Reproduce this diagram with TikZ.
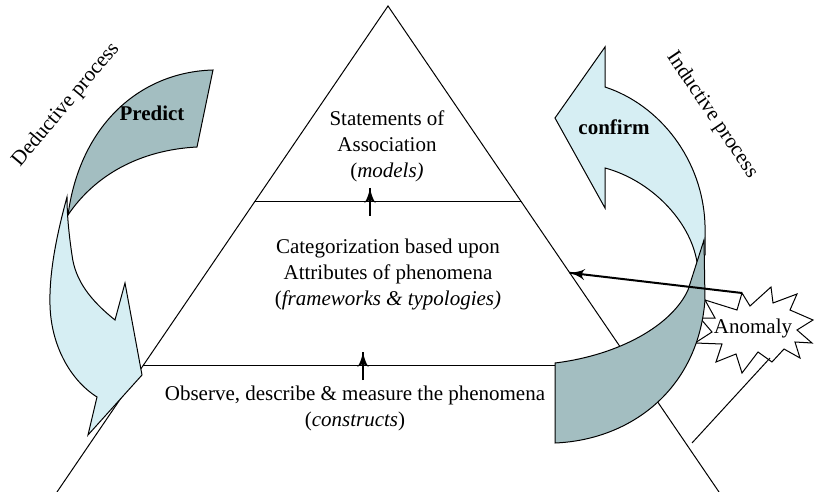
\documentclass[tikz,border=0pt]{standalone}
\usepackage{fontspec}
\setmainfont{Liberation Serif}[ItalicFont={Liberation Serif Italic},
  BoldFont={Liberation Serif Bold}]
\usetikzlibrary{arrows}
\usetikzlibrary{calc}
\usetikzlibrary{decorations.markings}
\definecolor{darkband}{RGB}{163,190,193}
\definecolor{lightband}{RGB}{214,238,243}
\tikzset{->/.style = {line width=1pt,
                      decoration={markings,
                                  mark=at position 1 with {\arrow[scale=1.3]{latex'}}},
                      postaction={decorate}}}
\tikzset{lbl/.style = {align=center, inner sep=0, font=\fontsize{10.5}{13}\selectfont}}
\tikzset{bold/.style = {inner sep=0, font=\fontsize{10.5}{13}\selectfont\bfseries}}
\tikzset{band/.style = {draw=black, line width=0.5pt}}

\begin{document}
\begin{tikzpicture}[x=0.5pt, y=-0.5pt, line width=0.5pt]
      \useasboundingbox (0,0) rectangle (815,492);
      % pyramid and its levels
      \coordinate (top) at (388,6);
      \coordinate (bl) at (57,492);
      \coordinate (br) at (719,492);
      \draw (bl) -- (top) -- (br);
      \draw ($(top)!0.403!(bl)$) -- ($(top)!0.403!(br)$);
      \draw ($(top)!0.739!(bl)$) -- ($(top)!0.739!(br)$);
      \draw [->] (370,216) -- (370,188);
      \draw [->] (363,380) -- (363,352);
      % anomaly burst
      \filldraw [fill=white] (742,293) -- (750,306) -- (771,287) -- (773,303)
        -- (797,294) -- (790,310) -- (813,320) -- (797,330) -- (812,343)
        -- (795,342) -- (800,358) -- (784,349) -- (772,362) -- (758,352)
        -- (742,373) -- (736,354) -- (716,362) -- (722,344) -- (695,343)
        -- (712,332) -- (700,318) -- (715,318) -- (705,300) -- (737,310) -- cycle;
      \coordinate (spike) at (742,293);
      \coordinate (foot) at (770,358);
      \coordinate (base) at (692,443);
      \draw (foot) -- (base);
      % deductive arrow
      \filldraw [band, fill=lightband] (67,197) .. controls (58,230) and (49,270) .. (50,305)
        .. controls (51,345) and (70,380) .. (97,397) -- (88,435) -- (142,375)
        -- (125,283) -- (115,320) .. controls (90,300) and (75,280) .. (72,255)
        .. controls (69,235) and (67,215) .. cycle;
      \filldraw [band, fill=darkband] (213,70) .. controls (140,72) and (80,125) .. (68,215)
        .. controls (95,175) and (140,150) .. (197,147) -- cycle;
      % inductive arrow
      \filldraw [band, fill=lightband] (605,47) -- (555,118) -- (605,208) -- (605,168)
        .. controls (650,180) and (690,220) .. (697,262) -- (705,255) -- (705,225)
        .. controls (703,160) and (660,105) .. (605,87) -- cycle;
      \filldraw [band, fill=darkband] (704,240) -- (705,300)
        .. controls (698,390) and (630,440) .. (555,443) -- (555,363)
        .. controls (620,355) and (672,325) .. (688,290) -- cycle;
      \draw [->] (spike) -- ($(top)!0.549!(br)$);
      % labels
      \node [lbl] (models) at (387,146) {Statements of\\Association\\(\textit{models)}};
      \node [lbl] (frameworks) at (388,274) {Categorization based upon\\Attributes of phenomena\\(\textit{frameworks \& typologies)}};
      \node [lbl] (constructs) at (355,408) {Observe, describe \& measure the phenomena\\(\textit{constructs})};
      \node [lbl] (anomaly) at (753,328) {Anomaly};
      \node [bold] (predict) at (152,113) {Predict};
      \node [bold] (confirm) at (614,127) {confirm};
      \node [lbl, rotate=50] (deductive) at (66,105) {Deductive process};
      \node [lbl, rotate=-56] (inductive) at (712,115) {Inductive process};
    \end{tikzpicture}
\end{document}
